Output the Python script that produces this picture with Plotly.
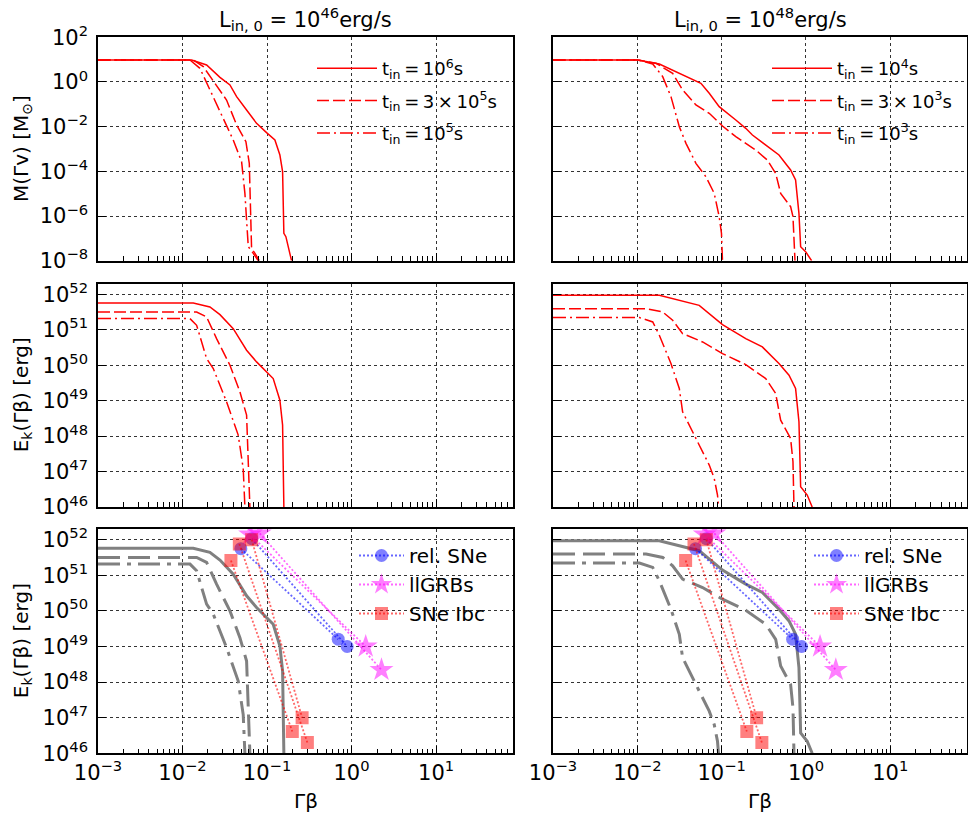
import numpy as np
import plotly.graph_objects as go

# ---------------- DATA (log10 values) ----------------
# Top-left: M(Γv) [Msun], L_in,0 = 1e46 erg/s
tl_a_lx = [-3.0, -1.892, -1.715, -1.557, -1.439, -1.360, -1.242, -1.124, -1.006, -0.907, -0.848, -0.816, -0.801, -0.777, -0.710]
tl_a_ly = [0.985, 0.985, 0.761, 0.209, -0.134, -0.657, -1.254, -1.851, -2.269, -2.597, -3.269, -4.015, -6.776, -6.925, -8.0]
tl_b_lx = [-3.0, -1.873, -1.754, -1.597, -1.479, -1.360, -1.250, -1.210, -1.195, -1.183, -1.143, -1.092]
tl_b_ly = [0.985, 0.985, 0.687, -0.134, -0.806, -1.925, -2.672, -3.642, -5.881, -7.448, -7.672, -8.0]
tl_c_lx = [-3.0, -1.912, -1.794, -1.676, -1.518, -1.400, -1.301, -1.262, -1.242, -1.222, -1.163, -1.104]
tl_c_ly = [0.985, 0.985, 0.612, -0.358, -1.627, -2.597, -3.567, -4.985, -6.179, -7.373, -7.672, -8.0]

# Top-right: M(Γv) [Msun], L_in,0 = 1e48 erg/s
tr_a_lx = [-3.0, -1.995, -1.739, -1.542, -1.246, -1.147, -1.029, -0.832, -0.714, -0.635, -0.477, -0.320, -0.182, -0.123, -0.083, -0.063, -0.004, 0.067]
tr_a_ly = [0.985, 0.985, 0.806, 0.463, -0.060, -0.507, -1.104, -1.701, -2.075, -2.373, -2.821, -3.269, -3.940, -4.388, -5.881, -7.373, -7.597, -8.0]
tr_b_lx = [-3.0, -1.995, -1.778, -1.581, -1.463, -1.305, -1.147, -0.990, -0.832, -0.596, -0.458, -0.359, -0.300, -0.182, -0.154, -0.142, -0.130]
tr_b_ly = [0.985, 0.985, 0.836, 0.388, -0.358, -1.030, -1.403, -1.970, -2.448, -3.045, -3.493, -4.090, -4.985, -5.582, -6.030, -6.776, -8.0]
tr_c_lx = [-3.0, -1.995, -1.817, -1.699, -1.601, -1.502, -1.423, -1.305, -1.187, -1.088, -1.029, -1.002, -0.990]
tr_c_ly = [0.985, 0.985, 0.806, 0.239, -0.657, -2.0, -2.746, -3.642, -4.239, -4.985, -6.030, -6.776, -8.0]

# Middle/bottom-left: E_k(Γβ) [erg], L_in,0 = 1e46 erg/s
ml_a_lx = [-3.0, -1.873, -1.676, -1.557, -1.400, -1.242, -1.124, -1.006, -0.927, -0.848, -0.816, -0.801]
ml_a_ly = [51.756, 51.756, 51.643, 51.427, 51.033, 50.423, 50.094, 49.812, 49.624, 49.014, 48.310, 46.0]
ml_b_lx = [-3.0, -1.833, -1.715, -1.597, -1.439, -1.321, -1.242, -1.203]
ml_b_ly = [51.502, 51.502, 51.362, 50.751, 50.0, 49.249, 48.592, 46.0]
ml_c_lx = [-3.0, -1.912, -1.833, -1.715, -1.636, -1.479, -1.341, -1.282, -1.262]
ml_c_ly = [51.315, 51.315, 51.127, 50.188, 49.906, 48.967, 48.028, 47.089, 46.0]

# Middle/bottom-right: E_k(Γβ) [erg], L_in,0 = 1e48 erg/s
mr_a_lx = [-3.0, -1.739, -1.266, -1.069, -0.990, -0.832, -0.714, -0.517, -0.320, -0.201, -0.123, -0.083, -0.063, 0.015, 0.074]
mr_a_ly = [51.972, 51.972, 51.690, 51.315, 51.146, 50.920, 50.751, 50.516, 50.047, 49.718, 49.343, 48.404, 46.573, 46.338, 46.0]
mr_b_lx = [-3.0, -1.896, -1.699, -1.581, -1.463, -1.226, -0.990, -0.714, -0.477, -0.359, -0.300, -0.182, -0.154, -0.142]
mr_b_ly = [51.596, 51.596, 51.502, 51.268, 50.892, 50.657, 50.329, 50.019, 49.624, 49.202, 48.451, 47.934, 47.277, 46.0]
mr_c_lx = [-3.0, -1.975, -1.817, -1.739, -1.601, -1.502, -1.463, -1.305, -1.147, -1.088, -1.049, -1.037]
mr_c_ly = [51.343, 51.343, 51.221, 50.845, 50.047, 49.343, 48.685, 47.934, 47.183, 46.808, 46.338, 46.0]

# Observations: each event = (low-velocity point) -> (fast point)
relsne_gb_lo = [0.049, 0.066]
relsne_E_lo = [5.6e51, 1.07e52]
relsne_gb_hi = [0.695, 0.887]
relsne_E_hi = [1.6e49, 1.0e49]

llgrb_gb_lo = [0.063, 0.082]
llgrb_E_lo = [1.4e52, 1.5e52]
llgrb_gb_hi = [1.47, 2.26]
llgrb_E_hi = [1.0e49, 2.2e48]

ibc_gb_lo = [0.0374, 0.047, 0.0658]
ibc_E_lo = [2.6e51, 7.6e51, 1.0e52]
ibc_gb_hi = [0.199, 0.30, 0.26]
ibc_E_hi = [4.1e46, 2.0e46, 1.0e47]

TS = "\u2009"  # thin space
left_labels = ["t<sub>in</sub>" + TS + "=" + TS + "10<sup>6</sup>s",
               "t<sub>in</sub>" + TS + "=" + TS + "3" + TS + "×" + TS + "10<sup>5</sup>s",
               "t<sub>in</sub>" + TS + "=" + TS + "10<sup>5</sup>s"]
right_labels = ["t<sub>in</sub>" + TS + "=" + TS + "10<sup>4</sup>s",
                "t<sub>in</sub>" + TS + "=" + TS + "3" + TS + "×" + TS + "10<sup>3</sup>s",
                "t<sub>in</sub>" + TS + "=" + TS + "10<sup>3</sup>s"]
titles = ["L<sub>in, 0</sub> = 10<sup>46</sup>erg/s", "L<sub>in, 0</sub> = 10<sup>48</sup>erg/s"]

x_tickvals = [1e-3, 1e-2, 1e-1, 1e0, 1e1]
x_ticktext = ["10<sup>−3</sup>", "10<sup>−2</sup>", "10<sup>−1</sup>", "10<sup>0</sup>", "10<sup>1</sup>"]
m_tickvals = [1e-8, 1e-6, 1e-4, 1e-2, 1e0, 1e2]
m_ticktext = ["10<sup>−8</sup>", "10<sup>−6</sup>", "10<sup>−4</sup>", "10<sup>−2</sup>", "10<sup>0</sup>", "10<sup>2</sup>"]
e_tickvals = [1e46, 1e47, 1e48, 1e49, 1e50, 1e51, 1e52]
e_ticktext = ["10<sup>46</sup>", "10<sup>47</sup>", "10<sup>48</sup>", "10<sup>49</sup>", "10<sup>50</sup>", "10<sup>51</sup>", "10<sup>52</sup>"]

# ---------------- FIGURE ----------------
W, H = 968, 820
FONT = "DejaVu Sans"
RED = "rgb(255,0,0)"
GRAY = "rgb(128,128,128)"
DASH_R = ["solid", "12px,4px", "13px,4px,2px,4px"]
DASH_G = ["solid", "22px,8px", "22px,7px,4px,7px"]

def px_x(p):
    return p / W

def px_y(p):
    return 1 - p / H

col_dom = [[px_x(98), px_x(513)], [px_x(553), px_x(967)]]
row_dom = [[px_y(260.7), px_y(37.3)], [px_y(507), px_y(283.7)], [px_y(753.3), px_y(529)]]

minor_vals = [k * 10.0 ** d for d in range(-3, 2) for k in range(2, 10)]

fig = go.Figure()

def ax_id(r, c):
    return r * 2 + c + 1

def sfx(i):
    return "" if i == 1 else str(i)

def add_curve(r, c, lx, ly, color, dash, width, name=None, legend=None, show=False):
    i = ax_id(r, c)
    fig.add_trace(go.Scatter(
        x=10.0 ** np.array(lx), y=10.0 ** np.array(ly), mode="lines",
        line=dict(color=color, dash=dash, width=width),
        xaxis="x" + sfx(i), yaxis="y" + sfx(i),
        name=name, showlegend=show, legend=legend, legendgroup=(name if show else None),
        hoverinfo="skip"))

top_sets = [[(tl_a_lx, tl_a_ly), (tl_b_lx, tl_b_ly), (tl_c_lx, tl_c_ly)],
            [(tr_a_lx, tr_a_ly), (tr_b_lx, tr_b_ly), (tr_c_lx, tr_c_ly)]]
mid_sets = [[(ml_a_lx, ml_a_ly), (ml_b_lx, ml_b_ly), (ml_c_lx, ml_c_ly)],
            [(mr_a_lx, mr_a_ly), (mr_b_lx, mr_b_ly), (mr_c_lx, mr_c_ly)]]
labels = [left_labels, right_labels]
legends_top = ["legend", "legend2"]
legends_bot = ["legend3", "legend4"]

for c in range(2):
    for k in range(3):
        lx, ly = top_sets[c][k]
        add_curve(0, c, lx, ly, RED, DASH_R[k], 1.5, name=labels[c][k], legend=legends_top[c], show=True)
        lx, ly = mid_sets[c][k]
        add_curve(1, c, lx, ly, RED, DASH_R[k], 1.5)
        add_curve(2, c, lx, ly, GRAY, DASH_G[k], 3)

obs = [
    ("rel. SNe", relsne_gb_lo, relsne_E_lo, relsne_gb_hi, relsne_E_hi, "rgba(0,0,255,0.5)", "rgba(0,0,255,0.6)", "circle", 13),
    ("llGRBs", llgrb_gb_lo, llgrb_E_lo, llgrb_gb_hi, llgrb_E_hi, "rgba(255,0,255,0.5)", "rgba(255,0,255,0.6)", "star", 18),
    ("SNe Ibc", ibc_gb_lo, ibc_E_lo, ibc_gb_hi, ibc_E_hi, "rgba(255,0,0,0.5)", "rgba(255,0,0,0.6)", "square", 13),
]
for c in range(2):
    i = ax_id(2, c)
    for (nm, xl, yl, xh, yh, mcol, lcol, sym, sz) in obs:
        for j in range(len(xl)):
            fig.add_trace(go.Scatter(
                x=[xl[j], xh[j]], y=[yl[j], yh[j]], mode="lines+markers",
                line=dict(color=lcol, dash="2px,2px", width=1.8),
                marker=dict(color=mcol, symbol=sym, size=sz, line=dict(width=0)),
                xaxis="x" + str(i), yaxis="y" + str(i),
                name=nm, showlegend=(j == 0), legend=legends_bot[c], legendgroup=nm + str(c),
                hoverinfo="skip"))

axis_font = dict(family=FONT, size=21, color="black")
layout = dict(width=W, height=H, autosize=False,
              margin=dict(l=0, r=0, t=0, b=0, pad=0, autoexpand=False),
              paper_bgcolor="white", plot_bgcolor="white", showlegend=True,
              font=dict(family=FONT, color="black"))

for r in range(3):
    for c in range(2):
        i = ax_id(r, c)
        layout["xaxis" + sfx(i)] = dict(
            type="log", domain=col_dom[c], anchor="y" + sfx(i), automargin=False,
            range=[-3, 1.91], showgrid=True, gridcolor="rgba(0,0,0,0.8)", griddash="dot", gridwidth=1,
            showline=True, linecolor="black", linewidth=1.5, mirror=True,
            ticks="inside", ticklen=8, tickwidth=1, tickcolor="black",
            tickmode="array", tickvals=x_tickvals, ticktext=x_ticktext,
            showticklabels=(r == 2), tickfont=axis_font, zeroline=False,
            minor=dict(ticks="inside", ticklen=5, tickwidth=1, tickcolor="black",
                       tickmode="array", tickvals=minor_vals, showgrid=False))
        if r == 0:
            yr, tv, tt = [-8, 2], m_tickvals, m_ticktext
        else:
            yr, tv, tt = [46, 52.3], e_tickvals, e_ticktext
        layout["yaxis" + sfx(i)] = dict(
            type="log", domain=row_dom[r], anchor="x" + sfx(i), automargin=False,
            range=yr, showgrid=True, gridcolor="rgba(0,0,0,0.8)", griddash="dot", gridwidth=1,
            showline=True, linecolor="black", linewidth=1.5, mirror=True,
            ticks="inside", ticklen=8, tickwidth=1, tickcolor="black",
            tickmode="array", tickvals=tv, ticktext=tt, ticklabelstandoff=4,
            showticklabels=(c == 0), tickfont=axis_font, zeroline=False)

leg_top = dict(bgcolor="rgba(0,0,0,0)", borderwidth=0, xanchor="left", yanchor="top",
               font=dict(family=FONT, size=18, color="black"), itemwidth=60, tracegroupgap=6)
leg_bot = dict(bgcolor="rgba(0,0,0,0)", borderwidth=0, xanchor="left", yanchor="top",
               font=dict(family=FONT, size=20, color="black"), itemwidth=45, tracegroupgap=0)
layout["legend"] = dict(leg_top, x=px_x(312), y=px_y(50))
layout["legend2"] = dict(leg_top, x=px_x(767), y=px_y(50))
layout["legend3"] = dict(leg_bot, x=px_x(354), y=px_y(536))
layout["legend4"] = dict(leg_bot, x=px_x(809), y=px_y(536))

ann = []
for c in range(2):
    cx = (col_dom[c][0] + col_dom[c][1]) / 2
    ann.append(dict(text=titles[c], x=cx, y=px_y(19), xref="paper", yref="paper",
                    showarrow=False, font=dict(family=FONT, size=21, color="black"),
                    xanchor="center", yanchor="middle"))
    ann.append(dict(text="Γβ", x=cx, y=px_y(801), xref="paper", yref="paper",
                    showarrow=False, font=dict(family=FONT, size=20, color="black"),
                    xanchor="center", yanchor="middle"))
ylabels = ["M(Γv) [M<sub>⊙</sub>]", "E<sub>k</sub>(Γβ) [erg]", "E<sub>k</sub>(Γβ) [erg]"]
for r in range(3):
    cy = (row_dom[r][0] + row_dom[r][1]) / 2
    ann.append(dict(text=ylabels[r], x=px_x(22), y=cy, xref="paper", yref="paper",
                    showarrow=False, textangle=-90, font=dict(family=FONT, size=20, color="black"),
                    xanchor="center", yanchor="middle"))
layout["annotations"] = ann

fig.update_layout(**layout)
fig.write_html("out.html")
